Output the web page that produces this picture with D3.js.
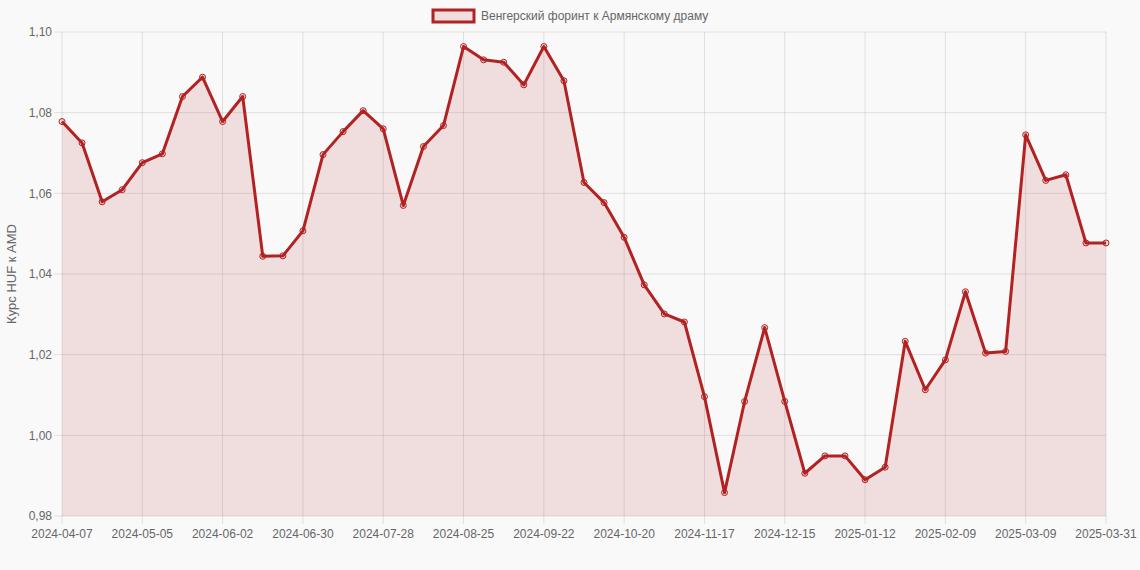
<!DOCTYPE html>
<html>
<head>
<meta charset="utf-8">
<script src="https://cdn.jsdelivr.net/npm/d3@7"></script>
<style>
  body { margin: 0; background: #f9f9f9; }
  svg { display: block; font-family: "Liberation Sans", Arial, Helvetica, sans-serif; }
</style>
</head>
<body>
<svg id="chart"></svg>
<script>
// weekly dates (category axis)
var dates = [
  "2024-04-07","2024-04-14","2024-04-21","2024-04-28","2024-05-05","2024-05-12","2024-05-19","2024-05-26",
  "2024-06-02","2024-06-09","2024-06-16","2024-06-23","2024-06-30","2024-07-07","2024-07-14","2024-07-21",
  "2024-07-28","2024-08-04","2024-08-11","2024-08-18","2024-08-25","2024-09-01","2024-09-08","2024-09-15",
  "2024-09-22","2024-09-29","2024-10-06","2024-10-13","2024-10-20","2024-10-27","2024-11-03","2024-11-10",
  "2024-11-17","2024-11-24","2024-12-01","2024-12-08","2024-12-15","2024-12-22","2024-12-29","2025-01-05",
  "2025-01-12","2025-01-19","2025-01-26","2025-02-02","2025-02-09","2025-02-16","2025-02-23","2025-03-02",
  "2025-03-09","2025-03-16","2025-03-23","2025-03-30","2025-03-31"
];

var rates = [
  1.0778, 1.0725, 1.0579, 1.0609, 1.0676, 1.0698, 1.0840, 1.0888,
  1.0778, 1.0840, 1.0444, 1.0445, 1.0507, 1.0696, 1.0753, 1.0805,
  1.0760, 1.0570, 1.0716, 1.0768, 1.0964, 1.0931, 1.0925, 1.0869,
  1.0964, 1.0879, 1.0627, 1.0577, 1.0491, 1.0373, 1.0301, 1.0281,
  1.0096, 0.9858, 1.0084, 1.0267, 1.0084, 0.9906, 0.9949, 0.9949,
  0.9890, 0.9921, 1.0233, 1.0113, 1.0187, 1.0356, 1.0204, 1.0208,
  1.0745, 1.0632, 1.0646, 1.0477, 1.0477
];

var yTicks = [0.98, 1.00, 1.02, 1.04, 1.06, 1.08, 1.10];
var xTickLabels = ["2024-04-07","2024-05-05","2024-06-02","2024-06-30","2024-07-28","2024-08-25",
  "2024-09-22","2024-10-20","2024-11-17","2024-12-15","2025-01-12","2025-02-09","2025-03-09","2025-03-31"];

var seriesName = "Венгерский форинт к Армянскому драму";
var yTitle = "Курс HUF к AMD";

var totalWidth = 1140, totalHeight = 570;
var margins = { top: 32, right: 34, bottom: 54, left: 62 };
var width = totalWidth - margins.left - margins.right;
var height = totalHeight - margins.top - margins.bottom;

var lineColor = "#b22222";
var fillColor = "rgba(178,34,34,0.12)";
var gridColor = "rgba(0,0,0,0.1)";
var textColor = "#666";

var svg = d3.select("#chart")
  .attr("width", totalWidth)
  .attr("height", totalHeight);

var g = svg.append("g")
  .attr("transform", "translate(" + margins.left + "," + margins.top + ")");

var x = d3.scalePoint().domain(dates).range([0, width]);
var y = d3.scaleLinear().domain([0.98, 1.10]).range([height, 0]);

var fmt = d => d.toFixed(2).replace(".", ",");

// grid
g.append("g")
  .selectAll("line")
  .data(yTicks)
  .join("line")
  .attr("x1", -8).attr("x2", width)
  .attr("y1", d => y(d)).attr("y2", d => y(d))
  .attr("stroke", gridColor);

g.append("g")
  .selectAll("line")
  .data(xTickLabels)
  .join("line")
  .attr("x1", d => x(d)).attr("x2", d => x(d))
  .attr("y1", 0).attr("y2", height + 8)
  .attr("stroke", gridColor);

// area + line
var area = d3.area()
  .x((d, i) => x(dates[i]))
  .y0(height)
  .y1(d => y(d));

var line = d3.line()
  .x((d, i) => x(dates[i]))
  .y(d => y(d));

g.append("path")
  .datum(rates)
  .attr("d", area)
  .attr("fill", fillColor);

g.append("path")
  .datum(rates)
  .attr("d", line)
  .attr("fill", "none")
  .attr("stroke", lineColor)
  .attr("stroke-width", 3)
  .attr("stroke-linejoin", "round");

g.append("g")
  .selectAll("circle")
  .data(rates)
  .join("circle")
  .attr("cx", (d, i) => x(dates[i]))
  .attr("cy", d => y(d))
  .attr("r", 3)
  .attr("fill", "rgba(178,34,34,0.12)")
  .attr("stroke", lineColor)
  .attr("stroke-width", 1);

// tick labels
g.append("g")
  .selectAll("text")
  .data(yTicks)
  .join("text")
  .attr("x", -10)
  .attr("y", d => y(d))
  .attr("dy", "0.35em")
  .attr("text-anchor", "end")
  .attr("font-size", 12)
  .attr("fill", textColor)
  .text(fmt);

g.append("g")
  .selectAll("text")
  .data(xTickLabels)
  .join("text")
  .attr("x", d => x(d))
  .attr("y", height + 22)
  .attr("text-anchor", "middle")
  .attr("font-size", 12)
  .attr("fill", textColor)
  .text(d => d);

// axis title
svg.append("text")
  .attr("transform", "translate(16," + (margins.top + height / 2) + ") rotate(-90)")
  .attr("text-anchor", "middle")
  .attr("font-size", 13)
  .attr("fill", textColor)
  .text(yTitle);

// legend
var legend = svg.append("g").attr("transform", "translate(433,10)");
legend.append("rect")
  .attr("width", 41).attr("height", 12)
  .attr("fill", "#f1dede")
  .attr("stroke", lineColor)
  .attr("stroke-width", 3);
legend.append("text")
  .attr("x", 48).attr("y", 6)
  .attr("dy", "0.35em")
  .attr("font-size", 12)
  .attr("fill", textColor)
  .text(seriesName);
</script>
</body>
</html>
